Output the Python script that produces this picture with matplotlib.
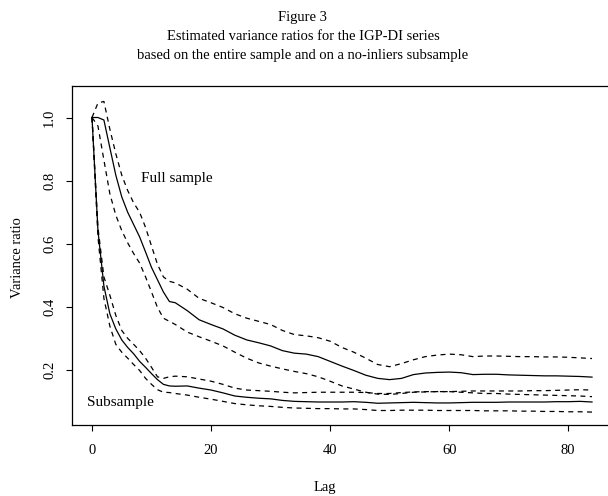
import matplotlib
matplotlib.use('Agg')
import matplotlib.pyplot as plt

plt.rcParams['font.family'] = ['Liberation Serif', 'DejaVu Serif']

# ─── Values (lag vs variance ratio)
#
lags = [0, 1, 2, 3, 4, 5, 6, 7, 8, 9, 10, 11, 12, 13, 14,
        16, 18, 20, 22, 24, 26, 28, 30, 32, 34, 36, 38, 40, 42, 44,
        46, 48, 50, 52, 54, 56, 58, 60, 62, 64, 66, 68, 70, 72, 74,
        76, 78, 80, 82, 84]

full_mid = [1.0, 1.0, 0.992, 0.904, 0.817, 0.748, 0.699, 0.660, 0.621, 0.573, 0.524, 0.485, 0.446, 0.416, 0.412,
            0.387, 0.358, 0.343, 0.329, 0.309, 0.294, 0.285, 0.275, 0.260, 0.252, 0.249, 0.241, 0.226, 0.211, 0.197,
            0.182, 0.172, 0.168, 0.172, 0.184, 0.189, 0.191, 0.192, 0.190, 0.184, 0.185, 0.185, 0.183, 0.182, 0.181,
            0.180, 0.180, 0.179, 0.178, 0.176]
full_up = [1.0, 1.046, 1.051, 0.963, 0.885, 0.817, 0.768, 0.729, 0.699, 0.651, 0.592, 0.534, 0.494, 0.480, 0.475,
           0.455, 0.426, 0.412, 0.397, 0.377, 0.363, 0.353, 0.343, 0.324, 0.311, 0.307, 0.301, 0.290, 0.270, 0.255,
           0.236, 0.216, 0.209, 0.219, 0.231, 0.241, 0.246, 0.249, 0.247, 0.241, 0.243, 0.243, 0.242, 0.241, 0.241,
           0.240, 0.240, 0.239, 0.237, 0.235]
full_lo = [1.0, 0.973, 0.865, 0.758, 0.690, 0.641, 0.602, 0.568, 0.538, 0.494, 0.446, 0.397, 0.363, 0.353, 0.343,
           0.319, 0.304, 0.290, 0.275, 0.255, 0.236, 0.221, 0.211, 0.202, 0.194, 0.187, 0.177, 0.163, 0.148, 0.138,
           0.128, 0.122, 0.121, 0.124, 0.128, 0.129, 0.130, 0.130, 0.128, 0.126, 0.124, 0.124, 0.122, 0.121, 0.120,
           0.119, 0.118, 0.117, 0.116, 0.114]

sub_mid = [1.0, 0.641, 0.465, 0.377, 0.329, 0.294, 0.270, 0.250, 0.226, 0.207, 0.187, 0.168, 0.153, 0.148, 0.147,
           0.148, 0.141, 0.135, 0.126, 0.116, 0.112, 0.109, 0.107, 0.102, 0.099, 0.098, 0.097, 0.097, 0.097, 0.098,
           0.096, 0.093, 0.094, 0.095, 0.096, 0.095, 0.094, 0.094, 0.095, 0.096, 0.096, 0.096, 0.097, 0.097, 0.097,
           0.097, 0.098, 0.098, 0.099, 0.097]
sub_up = [1.0, 0.651, 0.494, 0.436, 0.372, 0.324, 0.299, 0.280, 0.260, 0.236, 0.207, 0.177, 0.172, 0.177, 0.179,
          0.177, 0.170, 0.163, 0.153, 0.141, 0.135, 0.133, 0.131, 0.128, 0.126, 0.127, 0.128, 0.128, 0.128, 0.128,
          0.127, 0.124, 0.124, 0.127, 0.129, 0.130, 0.130, 0.130, 0.131, 0.132, 0.132, 0.132, 0.132, 0.132, 0.133,
          0.133, 0.134, 0.135, 0.136, 0.135]
sub_lo = [1.0, 0.621, 0.426, 0.338, 0.280, 0.255, 0.236, 0.216, 0.197, 0.172, 0.153, 0.136, 0.128, 0.127, 0.124,
          0.119, 0.112, 0.106, 0.099, 0.092, 0.088, 0.085, 0.083, 0.080, 0.078, 0.077, 0.076, 0.076, 0.075, 0.075,
          0.073, 0.070, 0.070, 0.071, 0.071, 0.071, 0.070, 0.070, 0.070, 0.070, 0.069, 0.069, 0.069, 0.068, 0.068,
          0.067, 0.067, 0.066, 0.066, 0.065]

x_ticks = [0, 20, 40, 60, 80]
y_ticks = [0.2, 0.4, 0.6, 0.8, 1.0]

title_lines = ["Figure 3",
               "Estimated variance ratios for the IGP-DI series",
               "based on the entire sample and on a no-inliers subsample"]

# ─── Figure (R base-graphics look, box runs past the right edge)
#
fig = plt.figure(figsize=(6.08, 4.96), dpi=100)
ax = fig.add_axes([72 / 608, 1 - 425 / 496, 540 / 608, 339 / 496])

dash = (0, (4, 3.5))
for mid, up, lo in [(full_mid, full_up, full_lo), (sub_mid, sub_up, sub_lo)]:
    ax.plot(lags, mid, color='black', lw=0.9)
    ax.plot(lags, up, color='black', lw=0.9, linestyle=dash)
    ax.plot(lags, lo, color='black', lw=0.9, linestyle=dash)

ax.text(8.2, 0.807, "Full sample", fontsize=11, va='center', ha='left')
ax.text(-0.8, 0.095, "Subsample", fontsize=11, va='center', ha='left')

ax.set_xlim(-3.36, 87.36)
ax.set_ylim(0.024, 1.10)
ax.set_xticks(x_ticks)
ax.set_yticks(y_ticks)
ax.set_yticklabels([f"{v:.1f}" for v in y_ticks], rotation=90, va='center')
ax.tick_params(direction='out', length=4.5, width=0.8, labelsize=10.5, pad=9)
ax.tick_params(axis='y', pad=7)
for s in ax.spines.values():
    s.set_linewidth(0.9)

fig.text(18 / 608, 1 - 258 / 496, "Variance ratio", rotation=90,
         ha='center', va='center', fontsize=10.5)
fig.text(325 / 608, 1 - 488 / 496, "Lag", ha='center', va='center', fontsize=10.5)

for i, line in enumerate(title_lines):
    fig.text(303 / 608, 1 - (18 + 18.5 * i) / 496, line, ha='center', va='center', fontsize=10.5)

plt.savefig('out.png', dpi=100)
plt.close(fig)
